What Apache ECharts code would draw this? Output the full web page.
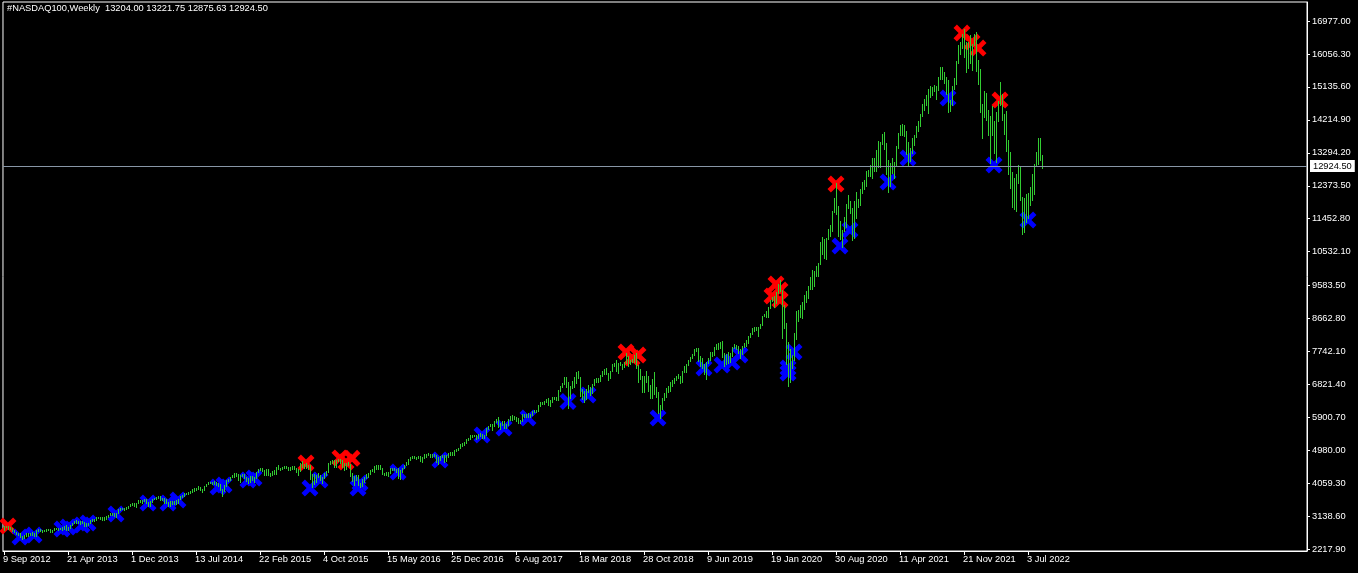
<!DOCTYPE html>
<html>
<head>
<meta charset="utf-8">
<script src="https://cdn.jsdelivr.net/npm/echarts@6/dist/echarts.min.js"></script>
<style>
html,body{margin:0;padding:0;background:#000;}
#chart{width:1358px;height:573px;}
</style>
</head>
<body>
<div id="chart"></div>
<script>
// ---- data: weekly bars [open, high, low, close], one row per week starting 9 Sep 2012 ----
const symbolName = '#NASDAQ100,Weekly';
const weekLabels = ['9 Sep 2012','21 Apr 2013','1 Dec 2013','13 Jul 2014','22 Feb 2015','4 Oct 2015','15 May 2016','25 Dec 2016','6 Aug 2017','18 Mar 2018','28 Oct 2018','9 Jun 2019','19 Jan 2020','30 Aug 2020','11 Apr 2021','21 Nov 2021','3 Jul 2022'];
const priceTicks = [2217.90,3138.60,4059.30,4980.00,5900.70,6821.40,7742.10,8662.80,9583.50,10532.10,11452.80,12373.50,13294.20,14214.90,15135.60,16056.30,16977.00];

const bars2012 = [
[2775,2870,2760,2865],[2865,2878,2840,2855],[2852,2860,2785,2799],[2800,2830,2780,2811],
[2810,2815,2730,2741],[2745,2760,2690,2699],[2700,2710,2640,2659],[2655,2680,2620,2626],
[2625,2660,2570,2587],[2585,2600,2494,2525],[2530,2625,2520,2620],[2615,2670,2600,2660],
[2660,2670,2600,2614],[2615,2660,2610,2628],[2630,2690,2620,2672],[2665,2680,2590,2605]];

const bars2013 = [
[2605,2750,2600,2747],[2747,2775,2730,2756],[2756,2775,2720,2737],[2737,2760,2700,2733],
[2733,2770,2720,2757],[2757,2780,2730,2769],[2769,2785,2755,2770],[2770,2790,2710,2760],
[2760,2770,2715,2751],[2751,2810,2750,2804],[2804,2815,2785,2799],[2799,2815,2770,2790],
[2790,2825,2780,2818],[2818,2830,2755,2787],[2787,2880,2780,2871],[2871,2885,2760,2786],
[2786,2840,2770,2829],[2829,2910,2815,2905],[2905,2960,2895,2951],[2951,3015,2945,3007],
[3007,3045,2960,2983],[2983,3010,2955,2963],[2963,2995,2915,2985],[2985,3015,2945,2955],
[2955,2990,2870,2887],[2887,2940,2880,2910],[2910,2960,2895,2950],[2950,3045,2945,3036],
[3036,3060,3005,3025],[3025,3055,3000,3048],[3048,3115,3040,3108],[3108,3120,3085,3104],
[3104,3115,3055,3063],[3063,3115,3050,3108],[3108,3120,3050,3070],[3070,3140,3060,3128],
[3128,3180,3120,3170],[3170,3225,3165,3204],[3204,3225,3190,3208],[3208,3225,3160,3200],
[3200,3240,3130,3231],[3231,3330,3225,3322],[3322,3370,3310,3356],[3356,3385,3330,3365],
[3365,3385,3315,3363],[3363,3405,3350,3400],[3400,3440,3385,3433],[3433,3495,3430,3487],
[3487,3500,3445,3483],[3483,3510,3430,3440],[3440,3515,3400,3507],[3507,3595,3505,3591]];

const bars2014 = [
[3591,3595,3535,3545],[3545,3590,3520,3580],[3580,3630,3560,3598],[3598,3620,3500,3504],
[3504,3535,3440,3508],[3508,3555,3420,3550],[3550,3635,3545,3628],[3628,3660,3610,3654],
[3654,3685,3620,3667],[3667,3715,3640,3708],[3708,3720,3600,3613],[3613,3660,3595,3622],
[3622,3640,3520,3553],[3553,3620,3505,3517],[3517,3540,3420,3437],[3437,3555,3430,3544],
[3544,3570,3490,3526],[3526,3580,3490,3570],[3570,3585,3495,3546],[3546,3630,3520,3626],
[3626,3700,3615,3696],[3696,3745,3690,3736],[3736,3795,3720,3792],[3792,3800,3755,3770],
[3770,3825,3760,3818],[3818,3845,3800,3835],[3835,3915,3830,3911],[3911,3925,3850,3889],
[3889,3935,3870,3921],[3921,3975,3915,3960],[3960,3970,3870,3880],[3880,3905,3830,3890],
[3890,3985,3885,3980],[3980,4045,3975,4039],[4039,4090,4030,4082],[4082,4105,4060,4097],
[4097,4110,4050,4064],[4064,4120,4050,4105],[4105,4110,4010,4051],[4051,4065,3975,4030],
[4030,4050,3870,3875],[3875,3915,3700,3840],[3840,4005,3835,4000],[4000,4160,3990,4158],
[4158,4185,4130,4173],[4173,4250,4165,4244],[4244,4290,4230,4253],[4253,4345,4250,4337],
[4337,4345,4270,4297],[4297,4320,4160,4166],[4166,4290,4090,4273],[4273,4330,4265,4307]];

const bars2015 = [
[4307,4315,4200,4230],[4230,4250,4130,4195],[4195,4215,4080,4135],[4135,4270,4100,4255],
[4255,4275,4140,4160],[4160,4240,4110,4225],[4225,4390,4215,4385],[4385,4450,4370,4443],
[4443,4480,4430,4463],[4463,4485,4395,4403],[4403,4420,4290,4300],[4300,4475,4290,4445],
[4445,4460,4290,4305],[4305,4340,4270,4320],[4320,4405,4300,4397],[4397,4420,4320,4336],
[4336,4530,4335,4517],[4517,4560,4460,4474],[4474,4500,4420,4479],[4479,4525,4460,4515],
[4515,4550,4500,4531],[4531,4540,4480,4508],[4508,4520,4440,4475],[4475,4510,4430,4468],
[4468,4540,4460,4521],[4521,4545,4450,4459],[4459,4480,4390,4444],[4444,4460,4290,4411],
[4411,4640,4400,4629],[4629,4694,4525,4533],[4533,4600,4480,4589],[4589,4620,4490,4526],
[4526,4580,4470,4560],[4560,4575,4190,4198],[4198,4320,3950,4311],[4311,4320,4050,4123],
[4123,4280,4110,4251],[4251,4360,4240,4279],[4279,4290,4150,4180],[4180,4240,4060,4227],
[4227,4345,4200,4324],[4324,4410,4290,4400],[4400,4630,4390,4624],[4624,4690,4590,4648],
[4648,4720,4630,4698],[4698,4720,4520,4528],[4528,4720,4520,4713],[4713,4736,4690,4712],
[4712,4735,4620,4690],[4690,4700,4530,4537],[4537,4620,4430,4465],[4465,4630,4460,4620]];

const bars2016 = [
[4620,4660,4580,4593],[4593,4600,4260,4271],[4271,4340,4130,4150],[4150,4260,4020,4245],
[4245,4300,4150,4280],[4280,4290,4010,4023],[4023,4080,3947,3996],[3996,4195,3990,4190],
[4190,4240,4100,4218],[4218,4320,4210,4314],[4314,4350,4250,4344],[4344,4440,4330,4436],
[4436,4460,4400,4437],[4437,4550,4390,4543],[4543,4565,4470,4484],[4484,4560,4460,4544],
[4544,4580,4470,4485],[4485,4500,4320,4341],[4341,4360,4280,4317],[4317,4370,4300,4323],
[4323,4380,4270,4367],[4367,4480,4360,4477],[4477,4490,4440,4470],[4470,4500,4420,4437],
[4437,4460,4370,4418],[4418,4480,4200,4270],[4270,4425,4170,4420],[4420,4500,4380,4496],
[4496,4580,4490,4576],[4576,4645,4570,4639],[4639,4735,4610,4730],[4730,4800,4710,4794],
[4794,4815,4770,4803],[4803,4820,4770,4795],[4795,4810,4740,4786],[4786,4825,4770,4815],
[4815,4830,4680,4681],[4681,4790,4650,4780],[4780,4870,4775,4856],[4856,4890,4810,4875],
[4875,4895,4840,4858],[4858,4870,4790,4836],[4836,4880,4800,4847],[4847,4890,4820,4834],
[4834,4840,4650,4659],[4659,4800,4600,4764],[4764,4830,4720,4818],[4818,4850,4800,4831],
[4831,4840,4660,4702],[4702,4840,4690,4824],[4824,4900,4810,4856],[4856,4940,4850,4929],
[4929,4945,4850,4864]];

const bars2017 = [
[4864,5000,4860,4990],[4990,5030,4970,5010],[5010,5050,4990,5045],[5045,5170,5040,5165],
[5165,5180,5090,5147],[5147,5210,5130,5203],[5203,5300,5195,5295],[5295,5340,5280,5331],
[5331,5400,5310,5379],[5379,5400,5350,5387],[5387,5420,5370,5402],[5402,5420,5300,5362],
[5362,5445,5340,5436],[5436,5460,5390,5421],[5421,5430,5340,5354],[5354,5420,5330,5409],
[5409,5600,5400,5584],[5584,5670,5570,5665],[5665,5710,5650,5699],[5699,5720,5560,5680],
[5680,5800,5670,5788],[5788,5870,5780,5856],[5856,5900,5640,5741],[5741,5760,5580,5690],
[5690,5800,5680,5786],[5786,5800,5620,5647],[5647,5730,5600,5706],[5706,5845,5700,5835],
[5835,5935,5830,5925],[5925,5970,5840,5893],[5893,5930,5860,5904],[5904,5920,5800,5832],
[5832,5890,5750,5758],[5758,5830,5740,5811],[5811,5995,5800,5989],[5989,6000,5910,5931],
[5931,6010,5920,6000],[6000,6020,5900,5945],[5945,6000,5920,5980],[5980,6070,5970,6066],
[6066,6120,6050,6106],[6106,6120,6060,6090],[6090,6260,6070,6247],[6247,6320,6230,6302],
[6302,6340,6270,6329],[6329,6350,6290,6329],[6329,6430,6320,6420],[6420,6450,6240,6334],
[6334,6380,6230,6339],[6339,6460,6330,6446],[6446,6480,6420,6449],[6449,6460,6380,6396]];

const bars2018 = [
[6396,6660,6390,6653],[6653,6770,6630,6757],[6757,6870,6740,6834],[6834,7030,6830,7022],
[7022,7040,6740,6760],[6760,6880,6160,6448],[6448,6790,6440,6780],[6780,6910,6720,6896],
[6896,7030,6750,6880],[6880,7160,6860,7150],[7150,7190,7010,7017],[7017,7030,6500,6524],
[6524,6700,6410,6581],[6581,6650,6320,6439],[6439,6710,6430,6647],[6647,6810,6610,6676],
[6676,6740,6520,6690],[6690,6830,6580,6827],[6827,6970,6810,6961],[6961,6990,6880,6923],
[6923,7010,6900,6995],[6995,7100,6930,7084],[7084,7190,7070,7133],[7133,7250,7120,7231],
[7231,7280,7120,7139],[7139,7150,6950,7040],[7040,7210,7010,7205],[7205,7395,7190,7388],
[7388,7420,7330,7356],[7356,7500,7200,7222],[7222,7420,7150,7410],[7410,7460,7360,7390],
[7390,7400,7250,7334],[7334,7450,7320,7437],[7437,7690,7430,7624],[7624,7630,7350,7421],
[7421,7500,7390,7474],[7474,7540,7440,7491],[7491,7650,7460,7627],[7627,7700,7280,7357],
[7357,7370,6900,7106],[7106,7250,6980,7003],[7003,7070,6600,6814],[6814,7050,6620,6966],
[6966,7190,6880,7009],[7009,7050,6650,6803],[6803,6810,6440,6526],[6526,6980,6450,6950],
[6950,7160,6550,6584],[6584,6750,6480,6524],[6524,6600,6030,6043],[6043,6260,5895,6225]];

const bars2019 = [
[6225,6440,6147,6422],[6422,6580,6390,6535],[6535,6730,6480,6720],[6720,6780,6620,6730],
[6730,6900,6650,6841],[6841,6940,6780,6910],[6910,7010,6860,7000],[7000,7060,6960,7040],
[7040,7120,7000,7060],[7060,7070,6850,6890],[6890,7200,6880,7185],[7185,7330,7180,7250],
[7250,7390,7180,7378],[7378,7520,7370,7509],[7509,7590,7490,7582],[7582,7665,7560,7655],
[7655,7800,7640,7795],[7795,7850,7750,7845],[7845,7850,7480,7611],[7611,7620,7350,7538],
[7538,7560,7290,7320],[7320,7400,7110,7127],[7127,7460,6980,7450],[7450,7560,7430,7520],
[7520,7730,7500,7715],[7715,7740,7620,7671],[7671,7860,7660,7848],[7848,7960,7800,7943],
[7943,7990,7820,7833],[7833,8010,7830,7998],[7998,8040,7600,7621],[7621,7700,7330,7590],
[7590,7680,7400,7600],[7600,7720,7420,7464],[7464,7690,7440,7674],[7674,7860,7620,7852],
[7852,7940,7840,7906],[7906,7930,7800,7820],[7820,7890,7700,7720],[7720,7800,7550,7780],
[7780,7900,7680,7865],[7865,7990,7860,7950],[7950,8060,7900,8045],[8045,8170,7990,8160],
[8160,8270,8150,8252],[8252,8400,8230,8392],[8392,8420,8310,8354],[8354,8420,8350,8403],
[8403,8420,8180,8410],[8410,8520,8390,8499],[8499,8740,8480,8733],[8733,8800,8730,8789]];

const bars2020 = [
[8789,8880,8700,8794],[8794,8990,8720,8973],[8973,9180,8960,9174],[9174,9260,9150,9187],
[9187,9290,9000,9150],[9150,9420,9090,9402],[9402,9640,9390,9623],[9623,9736,9440,9446],
[9446,9450,8130,8462],[8462,9030,8400,8530],[8530,8550,7400,7876],[7876,8000,6771,6994],
[6994,7820,6900,7502],[7502,7650,7280,7528],[7528,8260,7520,8153],[8153,8880,8100,8833],
[8833,8910,8590,8788],[8788,9040,8700,8718],[8718,9130,8690,9121],[9121,9330,8940,9152],
[9152,9430,9140,9325],[9325,9560,9250,9555],[9555,9830,9500,9824],[9824,10010,9480,9588],
[9588,10000,9560,9946],[9946,10130,9840,9849],[9849,10220,9840,10208],[10208,10790,10180,10767],
[10767,10950,10460,10504],[10504,10880,10360,10462],[10462,10920,10330,10905],[10905,11170,10900,11140],
[11140,11290,10960,11128],[11128,11660,11100,11643],[11643,12020,11630,12007],[12007,12439,11580,11622],
[11622,11800,10960,11064],[11064,11400,10900,10938],[10938,11140,10677,11117],[11117,11500,11100,11266],
[11266,11860,11220,11849],[11849,12110,11760,11854],[11854,11940,11610,11666],[11666,11740,10870,10938],
[10938,11950,10920,11896],[11896,12200,11460,11829],[11829,12000,11780,11857],[11857,12270,11840,12258],
[12258,12480,12180,12463],[12463,12540,12290,12380],[12380,12780,12370,12756],[12756,12810,12650,12805]];

const bars2021 = [
[12805,12950,12660,12888],[12888,13140,12600,13105],[13105,13160,12780,12803],[12803,13380,12780,13366],
[13366,13620,12900,12925],[12925,13600,12910,13589],[13589,13820,13540,13803],[13803,13880,13400,13474],
[13474,13570,12700,12842],[12842,13090,12210,12669],[12669,13020,12380,12827],[12827,13150,12740,12804],
[12804,13040,12600,12975],[12975,13490,12960,13480],[13480,13860,13430,13846],[13846,14060,13780,14041],
[14041,14090,13800,13957],[13957,14070,13760,13860],[13860,13890,13270,13460],[13460,13600,12950,13313],
[13313,13420,13060,13303],[13303,13720,13290,13687],[13687,13780,13510,13774],[13774,14030,13730,13996],
[13996,14190,13900,14132],[14132,14380,14040,14356],[14356,14650,14330,14640],[14640,14800,14500,14707],
[14707,14900,14620,14642],[14642,15080,14400,15065],[15065,15150,14860,14959],[14959,15130,14910,15083],
[15083,15200,15020,15142],[15142,15170,14800,15089],[15089,15400,15060,15374],[15374,15700,15350,15652],
[15652,15700,15370,15380],[15380,15560,15250,15320],[15320,15400,14950,15309],[15309,15340,14440,14567],
[14567,14760,14450,14700],[14700,15160,14640,15146],[15146,15380,15070,15339],[15339,15870,15210,15850],
[15850,16300,15800,16281],[16281,16400,16050,16290],[16290,16600,16210,16573],[16573,16764,15960,16026],
[16026,16380,15560,15712],[15712,16380,15650,16331],[16331,16580,15800,15880],[15880,16330,15610,16309],
[16309,16600,16300,16320]];

const bars2022 = [
[16320,16660,15590,15600],[15600,15880,15230,15612],[15612,15630,14430,14439],[14439,14650,13720,14440],
[14440,15030,14300,14697],[14697,14970,14220,14254],[14254,14500,13800,13878],[13878,14310,13020,14237],
[14237,14600,13800,13838],[13838,14170,13290,13301],[13301,14440,13030,14420],[14420,14740,14170,14698],
[14698,15265,14620,14838],[14838,14930,14210,14284],[14284,14380,13830,13898],[13898,14460,13340,13348],
[13348,13660,12710,12854],[12854,13310,12300,12638],[12638,12750,11770,12387],[12387,12600,11730,11836],
[11836,12690,11660,12681],[12681,12950,12450,12620],[12620,12940,11990,12014],[12014,12060,11037,11128],
[11128,12040,11090,11999],[11999,12130,11370,11554],[11554,12160,11480,12125],[12125,12330,11840,12040],
[12040,12700,11990,12397],[12397,12980,12130,12947],[12947,13310,12920,13207],[13207,13720,12970,13696],
[13696,13720,13100,13141],[13204.00,13221.75,12875.63,12924.50]];

// signal arrows: [week index, price]
const sellSignals = [
[2,2869],[151,4629],[168,4770],[171,4660],[174,4760],
[311,7730],[314,7562],[317,7646],
[386,9630],[388,9462],[384,9294],[388,9183],
[416,12423],[479,16640],[484,16390],[487,16220],[498,14770]];
const buySignals = [
[8,2562],[15,2617],[29,2785],[32,2841],[39,2897],[42,2953],[56,3204],[72,3512],[82,3512],[87,3595],
[107,3958],[110,4014],[122,4154],[125,4210],[153,3930],[158,4154],[177,3930],[178,4070],[197,4377],
[218,4712],[239,5411],[250,5606],[262,5886],[282,6350],[292,6529],[327,5886],[350,7283],[359,7367],
[364,7451],[368,7646],[392,7283],[392,7143],[395,7730],[418,10691],[423,11138],[442,12479],[452,13150],
[472,14826],[495,12954],[512,11418]];

// ---- build ----
const weeklyBars = [].concat(bars2012,bars2013,bars2014,bars2015,bars2016,bars2017,bars2018,bars2019,bars2020,bars2021,bars2022);
const barData = weeklyBars.map((b,i)=>[i,b[0],b[1],b[2],b[3]]);
const last = weeklyBars[weeklyBars.length-1];
const SLOTS = 652;
const slots = Array.from({length:SLOTS},(_,i)=>String(i));
const FONT = 'Liberation Sans';
const FS = 9.3;
const xShow = (i)=> i%32===0 && i/32 < weekLabels.length;
const crossPath = 'path://M4,0 L10,6 L16,0 L20,4 L14,10 L20,16 L16,20 L10,14 L4,20 L0,16 L6,10 L0,4 Z';

const chart = echarts.init(document.getElementById('chart'), null, {renderer:'canvas'});
chart.setOption({
  backgroundColor:'#000',
  animation:false,
  graphic:[{type:'text', left:7, top:4, z:100,
    style:{text: symbolName + '  ' + last.map(v=>v.toFixed(2)).join(' '), fill:'#fff', font: FS+'px "'+FONT+'"'}}],
  grid:{left:2, right:51, top:2, bottom:22, show:true, borderColor:'#fff', borderWidth:1, backgroundColor:'#000'},
  xAxis:{type:'category', data:slots, boundaryGap:true,
    axisLine:{show:true, lineStyle:{color:'#fff', width:1}},
    axisTick:{show:true, alignWithLabel:true, length:4, interval:(i)=>xShow(i), lineStyle:{color:'#fff'}},
    axisLabel:{show:true, interval:(i)=>xShow(i), formatter:(v,i)=>weekLabels[i/32]||'', color:'#fff', fontFamily:FONT, fontSize:FS, align:'left', margin:4, padding:[0,0,0,-1]},
    splitLine:{show:false}},
  yAxis:{type:'value', position:'right', min:2170.4, max:17507.8, scale:true,
    axisLine:{show:true, lineStyle:{color:'#fff', width:1}},
    axisTick:{show:true, length:3, inside:false, customValues:priceTicks, lineStyle:{color:'#fff'}},
    axisLabel:{show:true, customValues:priceTicks, formatter:(v)=>Number(v).toFixed(2), color:'#fff', fontFamily:FONT, fontSize:FS, margin:5},
    splitLine:{show:false}},
  series:[
    {name:'sell', type:'scatter', z:2, symbol:crossPath, symbolSize:[17,17], silent:true,
      itemStyle:{color:'#ff0000', opacity:1}, data:sellSignals},
    {name:'buy', type:'scatter', z:2, symbol:crossPath, symbolSize:[17,17], silent:true,
      itemStyle:{color:'#0000ff', opacity:1}, data:buySignals,
      markLine:{silent:true, symbol:'none', animation:false,
        lineStyle:{color:'#8896a6', width:1, type:'solid'},
        label:{show:true, position:'end', distance:3, formatter:()=>last[3].toFixed(2), color:'#000', backgroundColor:'#fff', padding:[2,3,1,3], fontFamily:FONT, fontSize:FS},
        data:[{yAxis:last[3]}]}},
    {name:'bars', type:'custom', z:3, silent:true, clip:true,
      encode:{x:0, y:[1,2,3,4]},
      data:barData,
      renderItem:function(params, api){
        const hi = api.coord([api.value(0), api.value(2)]);
        const lo = api.coord([api.value(0), api.value(3)]);
        const px = Math.round(hi[0]) + 0.5;
        return {type:'line', shape:{x1:px, y1:Math.round(hi[1]), x2:px, y2:Math.round(lo[1])+1},
          style:{stroke:'#32cd32', lineWidth:1}};
      }}
  ]
});
</script>
</body>
</html>
